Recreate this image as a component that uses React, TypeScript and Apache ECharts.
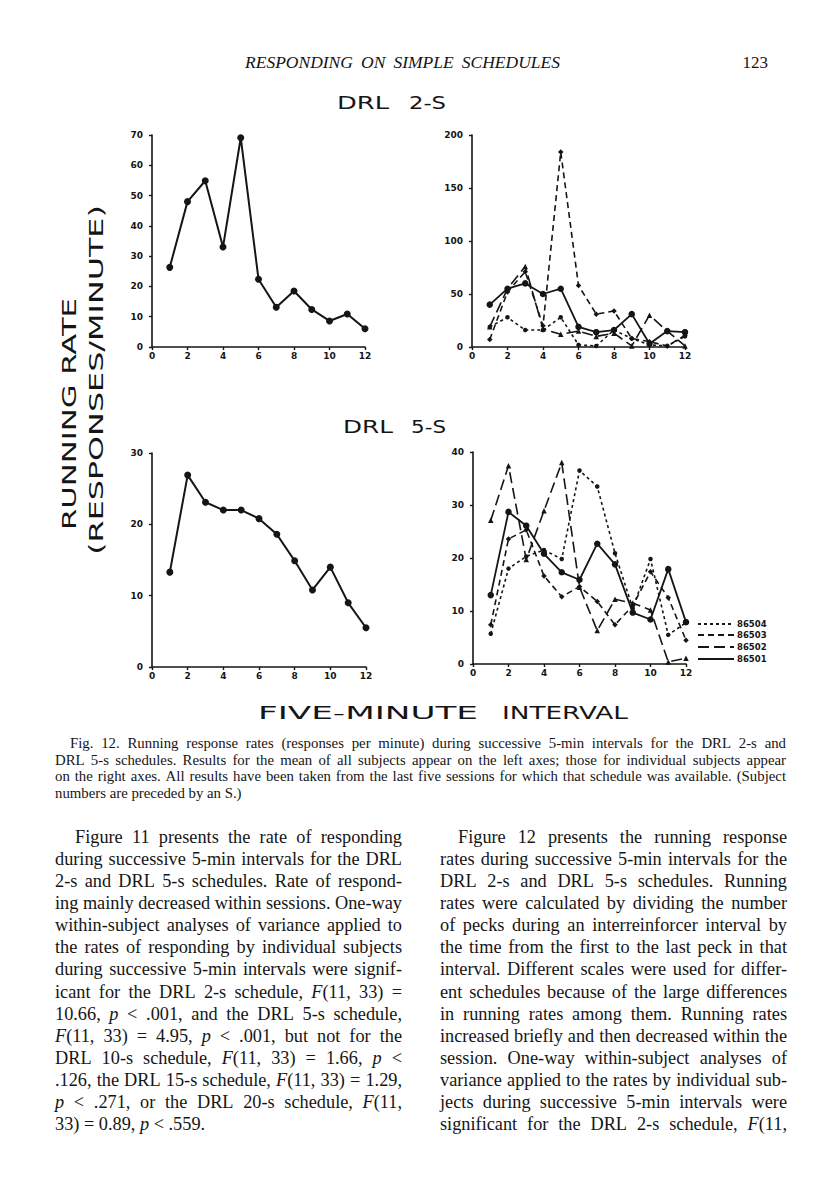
import React, { useEffect, useRef } from "react";
import * as echarts from "echarts";

// ---------- data ----------
const INTERVALS = [1, 2, 3, 4, 5, 6, 7, 8, 9, 10, 11, 12];
const X_TICKS = [0, 2, 4, 6, 8, 10, 12];
const Y_TICKS_DRL2_MEAN = [0, 10, 20, 30, 40, 50, 60, 70];
const Y_TICKS_DRL2_SUBJ = [0, 50, 100, 150, 200];
const Y_TICKS_DRL5_MEAN = [0, 10, 20, 30];
const Y_TICKS_DRL5_SUBJ = [0, 10, 20, 30, 40];

const DRL2_MEAN = [26.3, 48.0, 54.9, 33.0, 69.1, 22.4, 13.1, 18.5, 12.4, 8.6, 10.9, 6.0];
const DRL5_MEAN = [13.3, 26.9, 23.1, 22.0, 22.0, 20.8, 18.6, 14.9, 10.8, 14.0, 9.0, 5.5];

const SUBJECTS = ["86504", "86503", "86502", "86501"];
const DRL2_S86504 = [19, 28, 16, 16, 28, 2, 1, 16, 8, 2, 1, 10];
const DRL2_S86503 = [7, 52, 71, 20, 184, 58, 31, 34, 8, 5, 1, 11];
const DRL2_S86502 = [19, 55, 76, 17, 12, 15, 10, 13, 1, 30, 15, 1];
const DRL2_S86501 = [40, 55, 60, 50, 55, 19, 14, 16, 31, 3, 15, 14];

const DRL5_S86504 = [5.7, 18.0, 20.3, 21.5, 19.8, 36.5, 33.5, 20.9, 10.5, 19.8, 5.5, 7.8];
const DRL5_S86503 = [7.4, 23.6, 25.3, 16.6, 12.7, 14.6, 11.8, 7.4, 11.0, 17.4, 12.5, 4.5];
const DRL5_S86502 = [27.1, 37.4, 19.7, 28.9, 38.0, 14.5, 6.3, 12.2, 11.5, 10.2, 0.4, 1.1];
const DRL5_S86501 = [13.0, 28.7, 26.1, 20.8, 17.3, 15.9, 22.7, 18.8, 9.7, 8.4, 17.9, 7.9];

const HEADER = "RESPONDING ON SIMPLE SCHEDULES";
const PAGE_NO = "123";
const TITLE_TOP = ["DRL", "2-S"];
const TITLE_BOTTOM = ["DRL", "5-S"];
const Y_TITLE_1 = "RUNNING RATE";
const Y_TITLE_2 = "(RESPONSES/MINUTE)";
const X_TITLE = ["FIVE-MINUTE", "INTERVAL"];

const CAPTION = [
  "Fig. 12.  Running response rates (responses per minute) during successive 5-min intervals for the DRL 2-s and",
  "DRL 5-s schedules. Results for the mean of all subjects appear on the left axes; those for individual subjects appear",
  "on the right axes. All results have been taken from the last five sessions for which that schedule was available. (Subject",
  "numbers are preceded by an S.)",
];

const BODY_LEFT = [
  "Figure 11 presents the rate of responding",
  "during successive 5-min intervals for the DRL",
  "2-s and DRL 5-s schedules. Rate of respond-",
  "ing mainly decreased within sessions. One-way",
  "within-subject analyses of variance applied to",
  "the rates of responding by individual subjects",
  "during successive 5-min intervals were signif-",
  "icant for the DRL 2-s schedule, *F*(11, 33) =",
  "10.66, *p* < .001, and the DRL 5-s schedule,",
  "*F*(11, 33) = 4.95, *p* < .001, but not for the",
  "DRL 10-s schedule, *F*(11, 33) = 1.66, *p* <",
  ".126, the DRL 15-s schedule, *F*(11, 33) = 1.29,",
  "*p* < .271, or the DRL 20-s schedule, *F*(11,",
  "33) = 0.89, *p* < .559.",
];

const BODY_RIGHT = [
  "Figure 12 presents the running response",
  "rates during successive 5-min intervals for the",
  "DRL 2-s and DRL 5-s schedules. Running",
  "rates were calculated by dividing the number",
  "of pecks during an interreinforcer interval by",
  "the time from the first to the last peck in that",
  "interval. Different scales were used for differ-",
  "ent schedules because of the large differences",
  "in running rates among them. Running rates",
  "increased briefly and then decreased within the",
  "session. One-way within-subject analyses of",
  "variance applied to the rates by individual sub-",
  "jects during successive 5-min intervals were",
  "significant for the DRL 2-s schedule, *F*(11,",
];

// ---------- styles ----------
const INK = "#151515";
const SERIF = "Liberation Serif";
const SANS = "DejaVu Sans";

const SUBJ_STYLE: Record<string, any> = {
  "86504": { dash: [3, 3], symbol: "circle", size: 4.5, width: 1.6 },
  "86503": { dash: [6, 4], symbol: "diamond", size: 5.5, width: 1.6 },
  "86502": { dash: [11, 5], symbol: "triangle", size: 5.5, width: 1.6 },
  "86501": { dash: "solid", symbol: "circle", size: 6.5, width: 1.8 },
};

function buildGraphics(): any[] {
  const els: any[] = [];
  const ctx = document.createElement("canvas").getContext("2d")!;
  const measure = (t: string, family: string, size: number, italic = false, bold = false) => {
    ctx.font = `${italic ? "italic " : ""}${bold ? "bold " : ""}${size}px "${family}"`;
    return ctx.measureText(t).width;
  };

  const textEl = (t: string, x: number, y: number, family: string, size: number, opts: any = {}) => ({
    type: "text",
    x,
    y,
    silent: true,
    rotation: opts.rotation || 0,
    scaleX: opts.scaleX || 1,
    style: {
      text: t,
      fontFamily: family,
      fontSize: size,
      fontStyle: opts.italic ? "italic" : "normal",
      fontWeight: opts.bold ? "bold" : "normal",
      fill: INK,
      align: opts.align || "left",
      verticalAlign: "middle",
    },
  });

  // serif line, optionally justified, with *italic* runs
  const serifLine = (line: string, x0: number, x1: number, y: number, size: number, justify: boolean, italicAll = false) => {
    const words = line.split(" ").filter((w) => w.length > 0);
    const items = words.map((w) => {
      const parts = w.split("*");
      const runs = parts
        .map((t, i) => ({ t, it: italicAll ? true : i % 2 === 1 }))
        .filter((r) => r.t.length > 0);
      const widths = runs.map((r) => measure(r.t, SERIF, size, r.it));
      return { runs, widths, w: widths.reduce((a, b) => a + b, 0) };
    });
    const total = items.reduce((a, b) => a + b.w, 0);
    const space = measure(" ", SERIF, size, italicAll);
    const gap = justify && items.length > 1 ? (x1 - x0 - total) / (items.length - 1) : space;
    let x = x0;
    items.forEach((item) => {
      let rx = x;
      item.runs.forEach((r, k) => {
        els.push(textEl(r.t, rx, y, SERIF, size, { italic: r.it }));
        rx += item.widths[k];
      });
      x += item.w + gap;
    });
  };

  // wide sans word fitted into [x0,x1]
  const wideWord = (t: string, x0: number, x1: number, y: number, size: number) => {
    const w = measure(t, SANS, size);
    els.push(textEl(t, x0, y, SANS, size, { scaleX: (x1 - x0) / w }));
  };

  // header
  serifLine(HEADER, 245, 560, 62, 17.5, true, true);
  els.push(textEl(PAGE_NO, 768, 62, SERIF, 17, { align: "right" }));

  // panel titles
  wideWord(TITLE_TOP[0], 337, 389, 103, 18);
  wideWord(TITLE_TOP[1], 409, 446, 103, 18);
  wideWord(TITLE_BOTTOM[0], 343, 393, 427, 18);
  wideWord(TITLE_BOTTOM[1], 411, 446, 427, 18);

  // x title
  wideWord(X_TITLE[0], 258, 478, 713, 18);
  wideWord(X_TITLE[1], 502, 628, 713, 18);

  // y titles (rotated)
  const y1w = measure(Y_TITLE_1, SANS, 19);
  els.push(textEl(Y_TITLE_1, 69, 414, SANS, 19, { rotation: Math.PI / 2, align: "center", scaleX: 232 / y1w }));
  const y2w = measure(Y_TITLE_2, SANS, 19);
  els.push(textEl(Y_TITLE_2, 96, 380, SANS, 19, { rotation: Math.PI / 2, align: "center", scaleX: 350 / y2w }));

  // legend
  const legendY = [624, 635, 647, 659];
  SUBJECTS.forEach((s, i) => {
    const st = SUBJ_STYLE[s];
    els.push({
      type: "line",
      silent: true,
      shape: { x1: 698, y1: legendY[i], x2: 734, y2: legendY[i] },
      style: { stroke: INK, lineWidth: 1.8, lineDash: st.dash === "solid" ? null : st.dash },
    });
    els.push(textEl(s, 737, legendY[i], SANS, 8.5, { bold: true }));
  });

  // caption
  const capY = [743, 760, 776, 793];
  CAPTION.forEach((l, i) => {
    const x0 = i === 0 ? 70 : 55;
    serifLine(l, x0, 786, capY[i], 14.8, i < CAPTION.length - 1);
  });

  // body text
  const step = 22.08;
  BODY_LEFT.forEach((l, i) => {
    const x0 = i === 0 ? 75 : 55;
    serifLine(l, x0, 402, 837 + step * i, 18.3, i < BODY_LEFT.length - 1);
  });
  BODY_RIGHT.forEach((l, i) => {
    const x0 = i === 0 ? 458 : 440;
    serifLine(l, x0, 787, 837 + step * i, 18.3, true);
  });

  return els;
}

function buildOption(): any {
  const grids = [
    { left: 152, top: 135, width: 213, height: 212 },
    { left: 472, top: 135, width: 213, height: 212 },
    { left: 152, top: 453, width: 214, height: 214 },
    { left: 473, top: 452, width: 213, height: 212 },
  ];
  const yTicks = [Y_TICKS_DRL2_MEAN, Y_TICKS_DRL2_SUBJ, Y_TICKS_DRL5_MEAN, Y_TICKS_DRL5_SUBJ];
  const axisCommon = {
    axisLine: { show: true, lineStyle: { color: INK, width: 1.6 } },
    axisTick: { show: true, length: 3, lineStyle: { color: INK, width: 1.4 } },
    splitLine: { show: false },
  };
  const labelStyle = { color: INK, fontFamily: SANS, fontWeight: "bold", fontSize: 9 };
  const xAxis = grids.map((_, i) => ({
    type: "value",
    gridIndex: i,
    min: X_TICKS[0],
    max: X_TICKS[X_TICKS.length - 1],
    interval: X_TICKS[1] - X_TICKS[0],
    ...axisCommon,
    axisLabel: { ...labelStyle, margin: 4 },
  }));
  const yAxis = grids.map((_, i) => ({
    type: "value",
    gridIndex: i,
    min: yTicks[i][0],
    max: yTicks[i][yTicks[i].length - 1],
    interval: yTicks[i][1] - yTicks[i][0],
    ...axisCommon,
    axisLabel: { ...labelStyle, margin: 9 },
  }));

  const pts = (vals: number[]) => INTERVALS.map((x, i) => [x, vals[i]]);
  const meanSeries = (vals: number[], idx: number) => ({
    type: "line",
    xAxisIndex: idx,
    yAxisIndex: idx,
    data: pts(vals),
    symbol: "circle",
    symbolSize: 7,
    lineStyle: { color: INK, width: 2 },
    itemStyle: { color: INK },
    z: 3,
  });
  const subjSeries = (name: string, vals: number[], idx: number) => {
    const st = SUBJ_STYLE[name];
    return {
      type: "line",
      name,
      xAxisIndex: idx,
      yAxisIndex: idx,
      data: pts(vals),
      symbol: st.symbol,
      symbolSize: st.size,
      lineStyle: { color: INK, width: st.width, type: st.dash },
      itemStyle: { color: INK },
    };
  };

  return {
    animation: false,
    backgroundColor: "#ffffff",
    grid: grids.map((g) => ({ ...g, containLabel: false, outerBoundsMode: "none" })),
    xAxis,
    yAxis,
    series: [
      meanSeries(DRL2_MEAN, 0),
      subjSeries("86504", DRL2_S86504, 1),
      subjSeries("86503", DRL2_S86503, 1),
      subjSeries("86502", DRL2_S86502, 1),
      subjSeries("86501", DRL2_S86501, 1),
      meanSeries(DRL5_MEAN, 2),
      subjSeries("86504", DRL5_S86504, 3),
      subjSeries("86503", DRL5_S86503, 3),
      subjSeries("86502", DRL5_S86502, 3),
      subjSeries("86501", DRL5_S86501, 3),
    ],
    graphic: buildGraphics(),
  };
}

export default function App() {
  const ref = useRef<HTMLDivElement>(null);
  useEffect(() => {
    const chart = echarts.init(ref.current!, null, { renderer: "svg" });
    chart.setOption(buildOption());
    return () => chart.dispose();
  }, []);
  return (
    <div
      ref={ref}
      style={{ position: "absolute", left: 0, top: 0, width: 816, height: 1200, background: "#fff" }}
    />
  );
}
